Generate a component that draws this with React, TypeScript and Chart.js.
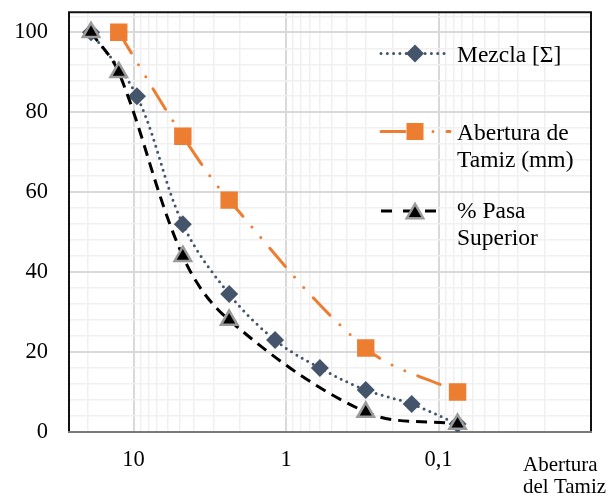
import React, { useEffect, useRef } from "react";
import { Chart, registerables } from "chart.js";

Chart.register(...registerables);

const sieveMezcla = [19, 9.5, 4.75, 2.36, 1.18, 0.6, 0.3, 0.15, 0.075];
const valuesMezcla = [100, 84, 52, 34.5, 23, 16, 10.5, 7, 2];

const sieveAbertura = [12.5, 4.75, 2.36, 0.3, 0.075];
const valuesAbertura = [100, 74, 58, 21, 10];

const sievePasa = [19, 12.5, 4.75, 2.36, 0.3, 0.075];
const valuesPasa = [100, 90, 44, 28, 5, 2];

const seriesNames = ["Mezcla [Σ]", "Abertura de Tamiz (mm)", "% Pasa Superior"];
const legendLines = [["Mezcla [Σ]"], ["Abertura de", "Tamiz (mm)"], ["% Pasa", "Superior"]];
const xTickLabels: Record<string, string> = { "10": "10", "1": "1", "0.1": "0,1" };
const xTitleLines = ["Abertura", "del Tamiz"];
const yLabelEvery = 20;
const yMinorStep = 4;

const SERIF = "'Liberation Serif', 'Times New Roman', serif";
const NAVY = "#44546A";
const ORANGE = "#ED7D31";
const TRI_BORDER = "#9a9a9a";

const toPoints = (xs: number[], ys: number[]) => xs.map((x, i) => ({ x, y: ys[i] }));

function isDecade(v: number) {
  const l = Math.log10(v);
  return Math.abs(l - Math.round(l)) < 1e-9;
}

function drawMarker(ctx: CanvasRenderingContext2D, kind: string, x: number, y: number) {
  ctx.save();
  ctx.setLineDash([]);
  ctx.beginPath();
  if (kind === "diamond") {
    const r = 9;
    ctx.moveTo(x, y - r);
    ctx.lineTo(x + r, y);
    ctx.lineTo(x, y + r);
    ctx.lineTo(x - r, y);
    ctx.closePath();
    ctx.fillStyle = NAVY;
    ctx.fill();
  } else if (kind === "square") {
    const s = 8.5;
    ctx.rect(x - s, y - s, 2 * s, 2 * s);
    ctx.fillStyle = ORANGE;
    ctx.fill();
  } else {
    const r = 9.5;
    for (let k = 0; k < 3; k++) {
      const a = (k * 2 * Math.PI) / 3;
      const px = x + Math.sin(a) * r;
      const py = y - Math.cos(a) * r + r / 4;
      if (k === 0) ctx.moveTo(px, py);
      else ctx.lineTo(px, py);
    }
    ctx.closePath();
    ctx.fillStyle = "#000";
    ctx.fill();
    ctx.lineWidth = 2.5;
    ctx.strokeStyle = TRI_BORDER;
    ctx.lineJoin = "miter";
    ctx.stroke();
  }
  ctx.restore();
}

const framePlugin = {
  id: "frame",
  beforeDatasetsDraw(chart: any) {
    const { ctx, chartArea: a } = chart;
    ctx.save();
    ctx.lineWidth = 2;
    ctx.strokeStyle = "#111";
    ctx.beginPath();
    ctx.moveTo(a.left, a.bottom);
    ctx.lineTo(a.left, a.top);
    ctx.lineTo(a.right, a.top);
    ctx.lineTo(a.right, a.bottom);
    ctx.stroke();
    ctx.strokeStyle = "#7a7a7a";
    ctx.beginPath();
    ctx.moveTo(a.left - 1, a.bottom);
    ctx.lineTo(a.right + 1, a.bottom);
    ctx.stroke();
    ctx.restore();
  },
  afterDraw(chart: any) {
    const { ctx } = chart;
    ctx.save();
    const rows = [
      { y: 53.5, kind: "diamond", color: NAVY, dash: [0, 6.3], cap: "round", x2: 445, base: [62] },
      { y: 131.5, kind: "square", color: ORANGE, dash: [24, 14, 0, 14, 0, 14], cap: "round", x2: 450, base: [139.5, 166.5] },
      { y: 211, kind: "triangle", color: "#000", dash: [11, 11], cap: "butt", x2: 440, base: [218, 245] },
    ];
    rows.forEach((r, i) => {
      ctx.save();
      ctx.strokeStyle = r.color;
      ctx.lineWidth = 3;
      ctx.lineCap = r.cap;
      ctx.setLineDash(r.dash);
      ctx.beginPath();
      ctx.moveTo(381, r.y);
      ctx.lineTo(r.x2, r.y);
      ctx.stroke();
      ctx.restore();
      drawMarker(ctx, r.kind, 415, r.y);
      ctx.fillStyle = "#000";
      ctx.font = `23.5px ${SERIF}`;
      ctx.textAlign = "left";
      ctx.textBaseline = "alphabetic";
      legendLines[i].forEach((t, j) => ctx.fillText(t, 457, r.base[j]));
    });
    ctx.font = `21px ${SERIF}`;
    ctx.fillStyle = "#000";
    ctx.textAlign = "left";
    ctx.textBaseline = "alphabetic";
    ctx.fillText(xTitleLines[0], 523, 470.5);
    ctx.fillText(xTitleLines[1], 523, 493);
    ctx.restore();
  },
};

export default function App() {
  const ref = useRef<HTMLCanvasElement | null>(null);
  useEffect(() => {
    if (!ref.current) return;
    const chart = new Chart(ref.current, {
      type: "line",
      data: {
        datasets: [
          {
            label: seriesNames[0],
            data: toPoints(sieveMezcla, valuesMezcla),
            borderColor: NAVY,
            backgroundColor: NAVY,
            borderWidth: 3,
            borderDash: [0, 6.3],
            borderCapStyle: "round",
            pointStyle: "rectRot",
            pointRadius: 9,
            pointBorderWidth: 0,
            pointBackgroundColor: NAVY,
            tension: 0.35,
            order: 1,
          },
          {
            label: seriesNames[1],
            data: toPoints(sieveAbertura, valuesAbertura),
            borderColor: ORANGE,
            backgroundColor: ORANGE,
            borderWidth: 3,
            borderDash: [24, 14, 0, 14, 0, 14],
            borderCapStyle: "round",
            pointStyle: "rect",
            pointRadius: 12.3,
            pointBorderWidth: 0,
            pointBackgroundColor: ORANGE,
            tension: 0.35,
            order: 2,
          },
          {
            label: seriesNames[2],
            data: toPoints(sievePasa, valuesPasa),
            borderColor: "#000",
            backgroundColor: "#000",
            borderWidth: 3,
            borderDash: [11, 7],
            pointStyle: "triangle",
            pointRadius: 9.5,
            pointBorderWidth: 2.5,
            pointBorderColor: TRI_BORDER,
            pointBackgroundColor: "#000",
            tension: 0.35,
            order: 0,
          },
        ],
      },
      options: {
        animation: false,
        responsive: false,
        devicePixelRatio: 1,
        layout: { padding: { top: 10, right: 24, left: 0, bottom: 0 } },
        plugins: { legend: { display: false }, tooltip: { enabled: false } },
        scales: {
          x: {
            type: "logarithmic",
            reverse: true,
            min: 0.01,
            max: 26.5,
            afterFit: (s: any) => {
              s.height = 63;
              s.paddingLeft = 0;
              s.paddingRight = 0;
            },
            afterBuildTicks: (s: any) => {
              const t: { value: number }[] = [];
              for (let e = -2; e <= 1; e++) {
                for (let m = 1; m <= 9; m++) {
                  const v = parseFloat((m * Math.pow(10, e)).toPrecision(6));
                  if (v >= 0.01 && v <= 26.5) t.push({ value: v });
                }
              }
              s.ticks = t;
            },
            border: { display: false },
            grid: {
              drawTicks: false,
              color: (c: any) => (c.tick && isDecade(c.tick.value) && c.tick.value > 0.01 ? "#d9d9d9" : "#f0f0f0"),
              lineWidth: (c: any) => (c.tick && isDecade(c.tick.value) && c.tick.value > 0.01 ? 2 : 1.5),
            },
            ticks: {
              autoSkip: false,
              maxRotation: 0,
              minRotation: 0,
              padding: 15,
              color: "#000",
              font: { family: SERIF, size: 22.5 },
              callback: (v: any) => {
                const key = String(parseFloat(Number(v).toPrecision(6)));
                return xTickLabels[key] ?? "";
              },
            },
          },
          y: {
            type: "linear",
            min: 0,
            max: 105,
            afterFit: (s: any) => {
              s.width = 69;
              s.paddingTop = 0;
              s.paddingBottom = 0;
            },
            afterBuildTicks: (s: any) => {
              const t: { value: number }[] = [];
              for (let v = 0; v <= 104; v += yMinorStep) t.push({ value: v });
              s.ticks = t;
            },
            border: { display: false },
            grid: {
              drawTicks: false,
              color: (c: any) => (c.tick && c.tick.value % yLabelEvery === 0 ? "#d9d9d9" : "#f0f0f0"),
              lineWidth: (c: any) => (c.tick && c.tick.value % yLabelEvery === 0 ? 2 : 1.5),
            },
            ticks: {
              autoSkip: false,
              padding: 21,
              color: "#000",
              font: { family: SERIF, size: 22.5 },
              callback: (v: any) => (Number(v) % yLabelEvery === 0 ? String(v) : ""),
            },
          },
        },
      },
      plugins: [framePlugin],
    });
    return () => chart.destroy();
  }, []);
  return (
    <div style={{ position: "fixed", left: 0, top: 0, width: 615, height: 495, background: "#fff" }}>
      <canvas ref={ref} width={615} height={495} style={{ display: "block" }} />
    </div>
  );
}
